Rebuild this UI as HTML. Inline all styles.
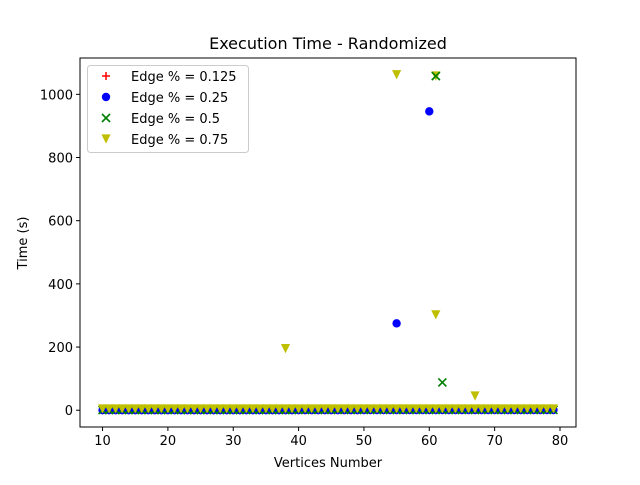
<!DOCTYPE html>
<html><head><meta charset="utf-8"><style>
body{margin:0;background:#fff}
svg{font-family:"DejaVu Sans","Liberation Sans",sans-serif}
</style></head><body>
<svg id="chart" width="640" height="480" viewBox="0 0 640 480">
<rect width="640" height="480" fill="#fff"/>
<text x="328" y="49" font-size="16" text-anchor="middle">Execution Time - Randomized</text>
<g id="plot"></g>
<g id="axes"></g>
</svg>
<script>
const xs = [10,11,12,13,14,15,16,17,18,19,20,21,22,23,24,25,26,27,28,29,30,31,32,33,34,35,36,37,38,39,40,41,42,43,44,45,46,47,48,49,50,51,52,53,54,55,56,57,58,59,60,61,62,63,64,65,66,67,68,69,70,71,72,73,74,75,76,77,78,79];
const redY = [0.1,0.1,0.1,0.1,0.1,0.1,0.1,0.1,0.1,0.1,0.1,0.1,0.1,0.1,0.1,0.1,0.1,0.1,0.1,0.1,0.1,0.1,0.1,0.1,0.1,0.1,0.1,0.1,0.1,0.1,0.1,0.1,0.1,0.1,0.1,0.1,0.1,0.1,0.1,0.1,0.2,0.2,0.2,0.2,0.2,0.2,0.2,0.2,0.2,0.2,0.2,0.2,0.2,0.2,0.2,0.2,0.2,0.2,0.2,0.2,0.3,0.3,0.3,0.3,0.3,0.3,0.3,0.3,0.3,0.3];
const blueY = [0.2,0.2,0.2,0.2,0.2,0.2,0.2,0.2,0.2,0.2,0.2,0.2,0.2,0.2,0.2,0.2,0.2,0.2,0.2,0.2,0.3,0.3,0.3,0.3,0.3,0.3,0.3,0.3,0.3,0.3,0.4,0.4,0.4,0.4,0.4,0.4,0.4,0.4,0.4,0.4,0.5,0.5,0.5,0.5,0.5,0.5,0.5,0.5,0.5,0.5,0.6,0.6,0.6,0.6,0.6,0.6,0.6,0.6,0.6,0.6,0.7,0.7,0.7,0.7,0.7,0.7,0.7,0.7,0.7,0.7];
const greenY = [0.5,0.5,0.5,0.5,0.5,0.5,0.5,0.5,0.5,0.5,0.6,0.6,0.6,0.6,0.6,0.6,0.6,0.6,0.6,0.6,0.7,0.7,0.7,0.7,0.7,0.7,0.7,0.7,0.7,0.7,0.8,0.8,0.8,0.8,0.8,0.8,0.8,0.8,0.8,0.8,0.9,0.9,0.9,0.9,0.9,0.9,0.9,0.9,0.9,0.9,1.0,1.0,1.0,1.0,1.0,1.0,1.0,1.0,1.0,1.0,1.1,1.1,1.1,1.1,1.1,1.1,1.1,1.1,1.1,1.1];
const yellowY = [4,4,4,4,4,4,4,4,4,4,4,4,4,4,4,4,4,4,4,4,4,4,4,4,4,4,4,4,4,4,4,4,4,4,4,4,4,4,4,4,4,4,4,4,4,4,4,4,4,4,4,4,4,4,4,4,4,4,4,4,4,4,4,4,4,4,4,4,4,4];
const blueOutX = [55,60];
const blueOutY = [275,946];
const greenOutX = [61,62];
const greenOutY = [1058,88];
const yellowOutX = [38,55,61,61,67];
const yellowOutY = [195,1062,1058,302,45];
const xTicks = [10,20,30,40,50,60,70,80];
const yTicks = [0,200,400,600,800,1000];

const L=80,R=576,T=58,B=427;
const xMin=6.55,xMax=82.45,yMin=-53.1,yMax=1115;
const X=v=>L+(v-xMin)/(xMax-xMin)*(R-L);
const Y=v=>B-(v-yMin)/(yMax-yMin)*(B-T);
const NS="http://www.w3.org/2000/svg";
const plot=document.getElementById('plot'), axes=document.getElementById('axes');
function mk(tag,attrs,parent){const e=document.createElementNS(NS,tag);for(const k in attrs)e.setAttribute(k,attrs[k]);parent.appendChild(e);return e;}
function marker(kind,cx,cy,parent){
  let e;
  if(kind==='plus'){e=mk('path',{d:`M${cx-4},${cy}H${cx+4}M${cx},${cy-4}V${cy+4}`,stroke:'#ff0000','stroke-width':1.5,fill:'none'},parent);}
  else if(kind==='circle'){e=mk('circle',{cx:cx,cy:cy,r:4.2,fill:'#0000ff'},parent);}
  else if(kind==='x'){e=mk('path',{d:`M${cx-4},${cy-4}L${cx+4},${cy+4}M${cx-4},${cy+4}L${cx+4},${cy-4}`,stroke:'#008000','stroke-width':1.6,fill:'none'},parent);}
  else {e=mk('path',{d:`M${cx-4.6},${cy-4.6}H${cx+4.6}L${cx},${cy+4.6}Z`,fill:'#bfbf00'},parent);}
  return e;
}
const series=[['plus',xs,redY],['circle',xs,blueY],['circle',blueOutX,blueOutY],['x',xs,greenY],['x',greenOutX,greenOutY],['tri',xs,yellowY],['tri',yellowOutX,yellowOutY]];
series.forEach(([k,xa,ys])=>{
  ys.forEach((v,i)=>{
    const m=marker(k,X(xa[i]),Y(v),plot);
    
    
  });
});
// green marker visible over the yellow at shared top point
const gTop=marker('x',X(greenOutX[0]),Y(greenOutY[0]),plot);



const fr=mk('rect',{x:L,y:T,width:R-L,height:B-T,fill:'none',stroke:'#000','stroke-width':1},axes);


xTicks.forEach(t=>{
  const x=X(t);
  const l=mk('line',{x1:x,x2:x,y1:B,y2:B+4,stroke:'#000'},axes);
  
  
  const tx=mk('text',{x:x,y:B+18,'font-size':13,'text-anchor':'middle'},axes);
  tx.textContent=t;
  
  
});
yTicks.forEach(t=>{
  const y=Y(t);
  const l=mk('line',{x1:L-4,x2:L,y1:y,y2:y,stroke:'#000'},axes);
  
  
  const tx=mk('text',{x:L-7,y:y+5,'font-size':13,'text-anchor':'end'},axes);
  tx.textContent=t;
  
  
});
let t1=mk('text',{x:328,y:467,'font-size':13,'text-anchor':'middle'},axes);t1.textContent='Vertices Number';


let t2=mk('text',{x:27,y:243,'font-size':13,'text-anchor':'middle',transform:'rotate(-90 27 243)'},axes);t2.textContent='Time (s)';


const lg=mk('g',{},axes);


mk('rect',{x:87.5,y:65.5,width:161,height:87,rx:3,fill:'#fff','fill-opacity':0.8,stroke:'#ccc'},lg);
const labels=['Edge % = 0.125','Edge % = 0.25','Edge % = 0.5','Edge % = 0.75'];
const kinds=['plus','circle','x','tri'];
labels.forEach((s,i)=>{
  const y=76+i*21;
  const m=marker(kinds[i],106,y,lg);
  
  
  const tx=mk('text',{x:131,y:y+5,'font-size':13},lg);
  tx.textContent=s;
  
  
});
</script>
</body></html>
